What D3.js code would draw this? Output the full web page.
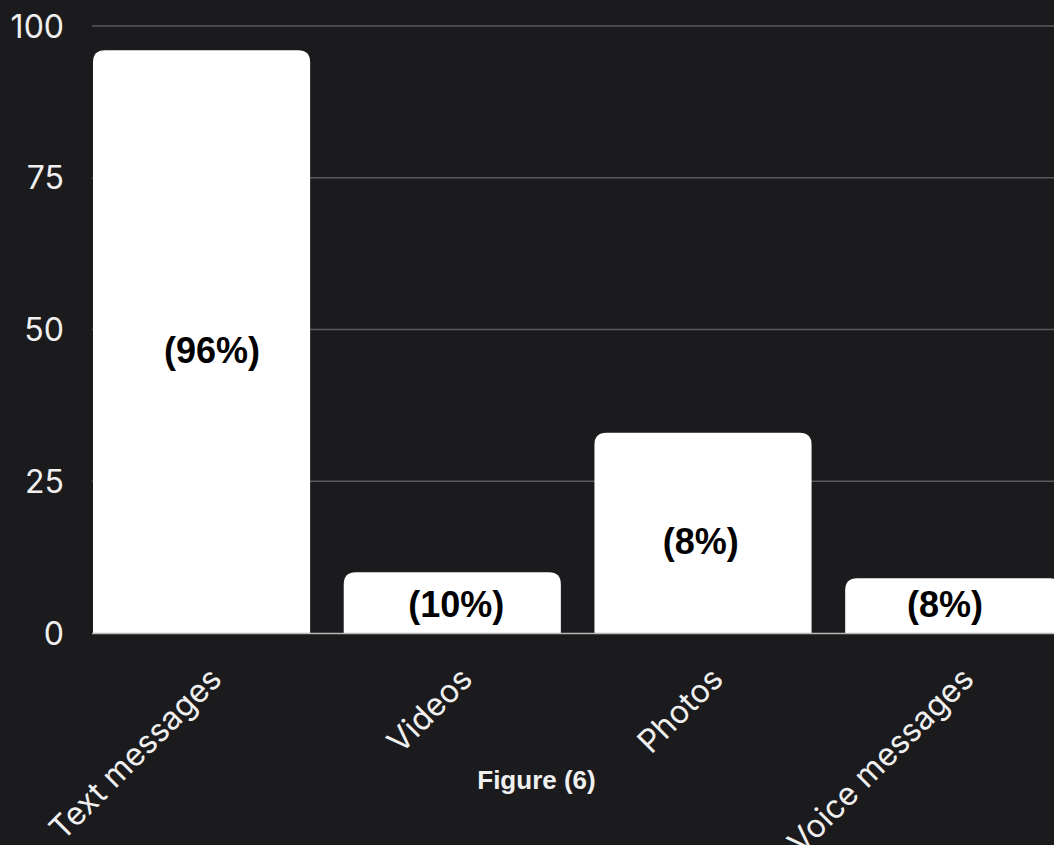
<!DOCTYPE html>
<html><head><meta charset="utf-8">
<script src="https://cdn.jsdelivr.net/npm/d3@7"></script>
<style>html,body{margin:0;padding:0;background:#1b1b1d;overflow:hidden}</style>
</head><body>
<svg id="c" width="1054" height="845"></svg>
<script>
const categories = ["Text messages", "Videos", "Photos", "Voice messages"];
const values = [96, 10, 33, 9];
const barLabels = ["(96%)", "(10%)", "(8%)", "(8%)"];
const yTicks = [0, 25, 50, 75, 100];
const caption = "Figure (6)";

const svg = d3.select("#c");
svg.append("rect").attr("width",1054).attr("height",845).attr("fill","#1b1b1d");

const x = d3.scaleBand().domain(categories).range([93, 1062.3]).paddingInner(0.134).paddingOuter(0);
const xLabel = d3.scalePoint().domain(categories).range([212, 945]);
const y = d3.scaleLinear().domain([0,100]).range([633, 26]);

// grid
svg.append("g").selectAll("line").data(yTicks.filter(d=>d>0)).join("line")
  .attr("x1",92).attr("x2",1054).attr("y1",d=>y(d)).attr("y2",d=>y(d))
  .attr("stroke","#5a5a5c").attr("stroke-width",1.5);

// y tick labels
svg.append("g").selectAll("text").data(yTicks).join("text")
  .attr("x",64).attr("y",d=>y(d)).attr("text-anchor","end").attr("dominant-baseline","central")
  .attr("font-family","Inter").attr("font-size",32).attr("fill","#f0f0f0").text(d=>d);

// bars with rounded top corners
const r = 12;
function barPath(x0,w,yt,yb){
  return `M${x0},${yb}V${yt+r}Q${x0},${yt} ${x0+r},${yt}H${x0+w-r}Q${x0+w},${yt} ${x0+w},${yt+r}V${yb}Z`;
}
svg.append("g").selectAll("path").data(categories).join("path")
  .attr("d",(d,i)=>barPath(x(d), x.bandwidth(), y(values[i]), y(0)))
  .attr("fill","#ffffff");

// baseline
svg.append("line").attr("x1",92).attr("x2",1054).attr("y1",y(0)+0.5).attr("y2",y(0)+0.5)
  .attr("stroke","#b8b8b8").attr("stroke-width",1.5);

// bar labels
svg.append("g").selectAll("text").data(categories).join("text")
  .attr("x",d=>xLabel(d))
  .attr("y",(d,i)=>{const mid=(y(values[i])+y(0))/2; return Math.min(mid+9, y(0)-29);})
  .attr("text-anchor","middle").attr("dominant-baseline","central")
  .attr("font-family","Liberation Sans, Arial").attr("font-weight","bold").attr("font-size",36)
  .attr("fill","#000").text((d,i)=>barLabels[i]);

// category labels
svg.append("g").selectAll("text").data(categories).join("text")
  .attr("transform",d=>`translate(${x(d)+x.bandwidth()/2+22},${681}) rotate(-45)`)
  .attr("text-anchor","end")
  .attr("font-family","Inter").attr("font-size",32).attr("fill","#f0f0f0").text(d=>d);

// caption
svg.append("text").attr("x",536.5).attr("y",789).attr("text-anchor","middle")
  .attr("font-family","Liberation Sans, Arial").attr("font-weight","bold").attr("font-size",26)
  .attr("fill","#f0f0f0").text(caption);
</script>
</body></html>
